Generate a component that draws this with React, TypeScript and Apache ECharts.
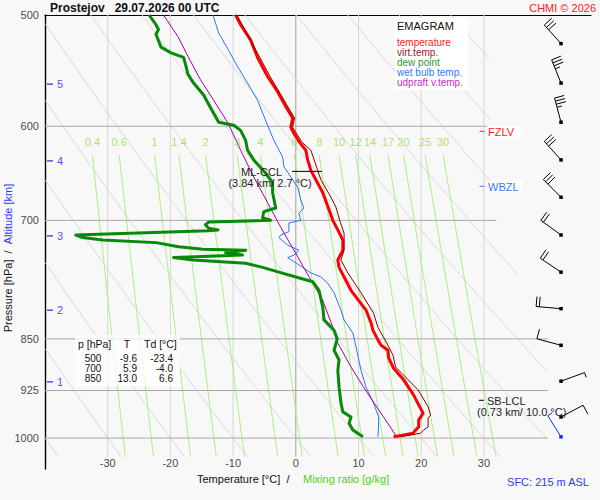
import React, { useEffect, useRef } from "react";
import * as echarts from "echarts";

const FONT = "'Liberation Sans', Arial, Helvetica, sans-serif";

// ---- axis extents ----
const P_TOP = 500;
const P_BOTTOM = 1052;
const P_LINE_BOTTOM = 1031;
const T_LEFT = -40;
const T_RIGHT = 47.08;

// ---- diagram furniture ----
const isobarLevels = [600, 700, 850, 925, 1000];
const isobarEndT = [30.6, 32.0, 40.2, 40.2, 40.2];
const isotherms = [-30, -20, -10, 0, 10, 20, 30];
const tempTickLabels = [-30, -20, -10, 0, 10, 20, 30];
const pressureTickLabels = [500, 600, 700, 850, 925, 1000];
const altitudeKm = [1, 2, 3, 4, 5];
const altitudeP = [912, 811, 718, 635, 560];
const mixingRatios = [0.4, 0.6, 1, 1.4, 2, 3, 4, 6, 8, 10, 12, 14, 17, 20, 25, 30];
const dryAdiabatsC = [-40, -30, -20, -10, 0, 10, 20, 30, 40, 50, 60, 70, 80, 90, 100];
const clipP = [500, 600, 700, 850, 1031];
const clipT = [31, 31, 32, 40, 40];

// ---- sounding profiles (pressure hPa, temperature °C) ----
const tempP = [500, 508, 521, 536, 553, 567, 581, 592, 601, 607, 616, 624, 634, 645, 655, 669, 688, 700, 711, 723, 735, 747, 756, 768, 785, 798, 811, 828, 838, 850, 859, 866, 877, 892, 909, 932, 947, 960, 971, 982, 987, 992, 995, 998];
const tempT = [-9.6, -8.8, -7.2, -6.1, -4.5, -2.9, -1.6, -0.5, -0.8, -0.3, 0.6, 1.6, 1.9, 2.4, 3.2, 4.3, 5.3, 5.9, 6.7, 7.5, 7.5, 6.7, 6.9, 7.7, 8.8, 10.0, 11.2, 12.0, 12.3, 13.0, 13.6, 14.7, 14.8, 15.6, 17.2, 18.8, 19.6, 20.3, 19.6, 19.6, 19.1, 18.7, 17.2, 15.6];

const virtP = [500, 553, 592, 601, 616, 624, 645, 655, 674, 685, 700, 715, 735, 747, 763, 788, 815, 834, 842, 854, 873, 890, 905, 924, 950, 963, 968, 982, 987, 992, 998];
const virtT = [-9.4, -4.1, -0.2, -0.5, 1.0, 2.4, 3.5, 4.0, 5.6, 6.4, 7.0, 7.7, 7.7, 7.2, 8.3, 10.4, 12.4, 13.1, 13.6, 14.4, 15.5, 15.9, 17.5, 19.5, 21.1, 21.5, 21.1, 21.1, 20.4, 19.9, 16.7];

const dewP = [500, 508, 512, 516, 527, 532, 536, 544, 551, 559, 570, 582, 596, 599, 604, 614, 624, 634, 648, 658, 669, 686, 690, 697, 700, 702, 705, 709, 711, 712, 717, 720, 723, 726, 731, 734, 735, 738, 741, 744, 747, 751, 756, 762, 768, 774, 785, 807, 824, 838, 850, 866, 880, 895, 920, 944, 958, 966, 976, 987, 998];
const dewT = [-23.4, -22.3, -21.9, -22.3, -21.5, -19.9, -17.9, -17.5, -17.2, -16.3, -14.7, -13.6, -12.3, -9.9, -8.8, -8.0, -7.7, -6.7, -4.8, -3.7, -3.7, -3.2, -5.1, -5.3, -4.0, -13.9, -14.4, -13.9, -12.4, -14.0, -35.1, -34.0, -30.8, -22.3, -18.7, -14.8, -8.0, -11.2, -8.5, -19.5, -16.4, -8.0, -5.3, -2.7, 0.0, 2.7, 3.7, 4.3, 4.5, 6.1, 6.6, 6.1, 6.9, 6.7, 6.9, 7.2, 7.5, 8.8, 8.5, 9.1, 10.7];

const wetP = [500, 515, 529, 544, 559, 575, 599, 614, 631, 641, 663, 677, 686, 692, 700, 703, 713, 717, 720, 729, 735, 741, 744, 753, 763, 768, 776, 788, 811, 824, 842, 861, 895, 920, 944, 966, 982, 998];
const wetT = [-13.2, -12.3, -10.8, -9.3, -7.7, -6.1, -4.5, -3.5, -2.1, -1.9, 0.3, 0.8, 1.3, 0.5, 0.8, -1.1, -1.1, -2.4, -2.7, -1.3, 0.5, -0.3, -1.3, 0.5, 2.4, 4.0, 5.1, 6.1, 7.2, 7.7, 9.1, 9.6, 10.4, 11.2, 12.4, 13.2, 13.2, 13.1];

const updP = [500, 518, 535, 556, 575, 597, 617, 624, 652, 680, 708, 743, 772, 798, 834, 856, 890, 920, 943, 966, 995];
const updT = [-21.1, -18.8, -17.2, -15.2, -13.1, -10.8, -9.3, -8.8, -6.7, -4.5, -2.4, 0.3, 2.4, 4.3, 5.9, 6.7, 8.8, 10.8, 12.4, 14.0, 15.9];

// ---- winds ----
const barbP = [524, 559, 596, 634, 674, 717, 762, 809, 859, 911, 966];
const barbDir = [318, 338, 345, 318, 315, 306, 304, 275, 285, 70, 62];
const barbSpd = [30, 35, 35, 30, 30, 20, 20, 20, 10, 5, 10];
const sfcP = 998;
const sfcDir = 328;
const sfcSpd = 5;
const BARB_T = 42.3;

// ---- table ----
const tableP = [500, 700, 850];
const tableT = [-9.6, 5.9, 13.0];
const tableTd = [-23.4, -4.0, 6.6];

// ---- markers ----
const mlcclP = 646;
const mlcclT = [-0.6, 4.2];
const sblclP = 940;
const sblclT = [29.2, 30.0];
const fzlvP = 605;
const wbzlP = 662;
const levelTickT = [29.3, 30.1];

function interp(xs: number[], ys: number[], x: number) {
  if (x <= xs[0]) return ys[0];
  for (let i = 1; i < xs.length; i++) {
    if (x <= xs[i]) {
      const f = (x - xs[i - 1]) / (xs[i] - xs[i - 1]);
      return ys[i - 1] + f * (ys[i] - ys[i - 1]);
    }
  }
  return ys[ys.length - 1];
}

function dewFromMix(w: number, p: number) {
  const e = (w * p) / (622 + w);
  const l = Math.log(e / 6.112);
  return (243.5 * l) / (17.67 - l);
}

const zip = (ps: number[], ts: number[]) => ps.map((p, i) => [ts[i], p]);

function buildOption() {
  const adiabatData = dryAdiabatsC
    .map((th) => {
      const coords: number[][] = [];
      for (let p = P_TOP; p <= P_LINE_BOTTOM; p += 1) {
        const T = (th + 273.15) * Math.pow(p / 1000, 0.286) - 273.15;
        if (T <= interp(clipP, clipT, p) && T >= T_LEFT) coords.push([T, p]);
      }
      return { coords };
    })
    .filter((d) => d.coords.length > 1);

  const mixTopP = 629;
  const mixData = mixingRatios.map((w) => {
    const coords: number[][] = [];
    for (let p = mixTopP; p <= P_LINE_BOTTOM; p += 4) coords.push([dewFromMix(w, p), p]);
    coords.push([dewFromMix(w, P_LINE_BOTTOM), P_LINE_BOTTOM]);
    return { coords };
  });

  const isothermData = isotherms
    .filter((t) => t !== 0)
    .map((t) => ({ coords: [[t, P_TOP], [t, P_LINE_BOTTOM]] }));
  const isobarData = isobarLevels.map((p, i) => ({ coords: [[T_LEFT, p], [isobarEndT[i], p]] }));

  const linesBase = (data: any, color: string, width: number, z = 1) => ({
    type: "lines",
    coordinateSystem: "cartesian2d",
    polyline: true,
    silent: true,
    z,
    data,
    lineStyle: { color, width, opacity: 1 },
  });

  const profile = (data: number[][], color: string, width: number, z: number) => ({
    type: "line",
    data,
    symbol: "none",
    silent: true,
    z,
    lineStyle: { color, width, join: "round" },
  });

  const labelScatter = (data: any[], label: any, extra: any = {}) => ({
    type: "scatter",
    data,
    symbolSize: 0.1,
    silent: true,
    z: 20,
    itemStyle: { color: "rgba(0,0,0,0)" },
    label: { show: true, fontFamily: FONT, ...label },
    ...extra,
  });

  const barbData = barbP.map((p, i) => [BARB_T, p, barbDir[i], barbSpd[i], 0]);
  barbData.push([BARB_T, sfcP, sfcDir, sfcSpd, 1]);

  const text = (x: number, y: number, s: string, opts: any = {}) => ({
    type: "text",
    x,
    y,
    z: 100,
    silent: true,
    style: {
      text: s,
      fontFamily: FONT,
      fontSize: 11,
      fill: "#111",
      align: "left",
      verticalAlign: "middle",
      ...opts,
    },
  });

  const legendItems = [
    ["temperature", "#ff1a1a"],
    ["virt.temp.", "#9a1a1a"],
    ["dew point", "#2e9a2e"],
    ["wet bulb temp.", "#2f7aff"],
    ["udpraft v.temp.", "#c030c0"],
  ];

  const tbl = { fontSize: 10, lineHeight: 9 };

  const graphics: any[] = [
    text(50, 8, "Prostejov   29.07.2026 00 UTC", { fontWeight: "bold", fontSize: 12 }),
    text(596, 8, "CHMI © 2026", { align: "right", fill: "#ff2020" }),
    {
      type: "rect",
      z: 99,
      silent: true,
      shape: { x: 395, y: 18, width: 73, height: 72 },
      style: { fill: "#ffffff" },
    },
    text(397, 26, "EMAGRAM", { fill: "#111" }),
    ...legendItems.map((it, i) => text(397, 42 + i * 10, it[0], { fill: it[1], fontSize: 10, lineHeight: 9 })),
    {
      type: "rect",
      z: 99,
      silent: true,
      shape: { x: 75, y: 335, width: 105, height: 51 },
      style: { fill: "rgba(255,255,255,0.75)" },
    },
    text(78, 344, "p [hPa]", { ...tbl, fontSize: 10.5 }),
    text(127, 344, "T", { ...tbl, fontSize: 10.5, align: "center" }),
    text(144, 344, "Td [°C]", { ...tbl, fontSize: 10.5 }),
    ...tableP.flatMap((p, i) => [
      text(93, 358 + i * 10, String(p), { ...tbl, align: "center" }),
      text(137, 358 + i * 10, tableT[i].toFixed(1), { ...tbl, align: "right" }),
      text(173, 358 + i * 10, tableTd[i].toFixed(1), { ...tbl, align: "right" }),
    ]),
    text(282, 172, "ML-CCL", { align: "right", fill: "#222" }),
    text(270, 183, "(3.84 km/ 2.7 °C)", { align: "center", fill: "#222" }),
    text(487, 401, "SB-LCL", { fill: "#222" }),
    text(477, 412, "(0.73 km/ 10.0 °C)", { fill: "#222" }),
    {
      type: "rect",
      z: 99,
      silent: true,
      shape: { x: 487, y: 126, width: 36, height: 11 },
      style: { fill: "#ffffff" },
    },
    text(488, 131.5, "FZLV", { fill: "#ff2020" }),
    {
      type: "rect",
      z: 99,
      silent: true,
      shape: { x: 487, y: 181, width: 36, height: 11 },
      style: { fill: "#ffffff" },
    },
    text(488, 186.5, "WBZL", { fill: "#3a78ff" }),
    text(197, 479, "Temperature [°C]  /", { fill: "#111" }),
    text(303, 479, "Mixing ratio [g/kg]", { fill: "#55cc22" }),
    text(589, 482, "SFC: 215 m ASL", { align: "right", fill: "#2a3aff" }),
    {
      type: "text",
      x: 8,
      y: 258,
      rotation: Math.PI / 2,
      z: 100,
      silent: true,
      style: {
        text: "{a|Pressure [hPa]}{a|  /  }{c|Altitude [km]}",
        fontFamily: FONT,
        fontSize: 11,
        align: "center",
        verticalAlign: "middle",
        rich: {
          a: { fill: "#111", fontFamily: FONT, fontSize: 11 },
          c: { fill: "#2a3aff", fontFamily: FONT, fontSize: 11 },
        },
      },
    },
  ];

  return {
    animation: false,
    backgroundColor: "#f8f8f8",
    grid: { left: 45, right: 9, top: 15, bottom: 31, containLabel: false },
    xAxis: {
      type: "value",
      min: T_LEFT,
      max: T_RIGHT,
      position: "top",
      axisLine: { show: true, onZero: false, lineStyle: { color: "#000", width: 1.2 } },
      axisTick: { show: false },
      axisLabel: { show: false },
      splitLine: { show: false },
    },
    yAxis: {
      type: "log",
      logBase: 10,
      min: P_TOP,
      max: P_BOTTOM,
      inverse: true,
      axisLine: { show: true, onZero: false, lineStyle: { color: "#000", width: 1.4 } },
      axisTick: { show: false },
      axisLabel: { show: false },
      splitLine: { show: false },
    },
    graphic: graphics,
    series: [
      linesBase(isothermData, "#d6d6d6", 1, 1),
      linesBase([{ coords: [[0, P_TOP], [0, P_LINE_BOTTOM]] }], "#a0a0a0", 1, 1),
      linesBase(adiabatData, "#d4d4d4", 1, 1),
      linesBase(mixData, "#a8f07c", 1, 1),
      linesBase(isobarData, "#a8a8a8", 1, 1),
      profile(zip(wetP, wetT), "#2b72ff", 1, 5),
      profile(zip(updP, updT), "#a400a8", 1, 5),
      profile(zip(dewP, dewT), "#078a07", 3, 6),
      profile(zip(tempP, tempT), "#ff0000", 3, 6),
      profile(zip(virtP, virtT), "#8a0000", 1, 7),
      linesBase([{ coords: [[mlcclT[0], mlcclP], [mlcclT[1], mlcclP]] }], "#000", 1, 8),
      linesBase([{ coords: [[sblclT[0], sblclP], [sblclT[1], sblclP]] }], "#000", 1, 8),
      labelScatter(
        pressureTickLabels.map((p) => [T_LEFT, p]),
        { position: "left", distance: 6, fontSize: 11, color: "#111", formatter: (pr: any) => String(pr.value[1]) }
      ),
      labelScatter(
        tempTickLabels.map((t) => [t, 1042]),
        { position: "inside", fontSize: 11, color: "#111", formatter: (pr: any) => String(pr.value[0]) }
      ),
      labelScatter(
        mixingRatios.map((w) => [dewFromMix(w, 629), 616, w]),
        { position: "inside", fontSize: 11, color: "#9ada4c", formatter: (pr: any) => String(pr.value[2]) }
      ),
      {
        type: "scatter",
        data: altitudeKm.map((k, i) => [T_LEFT + 0.8, altitudeP[i], k]),
        symbol: "rect",
        symbolSize: [6, 1.5],
        silent: true,
        z: 20,
        itemStyle: { color: "#2222ee" },
        label: {
          show: true,
          position: "right",
          distance: 4,
          fontFamily: FONT,
          fontSize: 11,
          color: "#2222ee",
          formatter: (pr: any) => String(pr.value[2]),
        },
      },
      linesBase([{ coords: [[levelTickT[0], fzlvP], [levelTickT[1], fzlvP]] }], "#ff2020", 1, 110),
      linesBase([{ coords: [[levelTickT[0], wbzlP], [levelTickT[1], wbzlP]] }], "#3a78ff", 1, 110),
      {
        type: "custom",
        coordinateSystem: "cartesian2d",
        silent: true,
        z: 30,
        data: barbData,
        renderItem: (params: any, api: any) => {
          const c = api.coord([api.value(0), api.value(1)]);
          const dir = (api.value(2) * Math.PI) / 180;
          const spd = api.value(3);
          const sfc = api.value(4) === 1;
          const color = sfc ? "#1030ff" : "#000000";
          const ux = Math.sin(dir);
          const uy = -Math.cos(dir);
          const px = -uy;
          const py = ux;
          const L = 25;
          const FL = 10;
          const SP = 3.2;
          const tx = c[0] + ux * L;
          const ty = c[1] + uy * L;
          const children: any[] = [
            { type: "line", shape: { x1: c[0], y1: c[1], x2: tx, y2: ty }, style: { stroke: color, lineWidth: 1 } },
          ];
          const nFull = Math.floor(spd / 10);
          const half = spd % 10 >= 5;
          let k = 0;
          for (let i = 0; i < nFull; i++, k++) {
            const bx = tx - ux * SP * k;
            const by = ty - uy * SP * k;
            children.push({
              type: "line",
              shape: { x1: bx, y1: by, x2: bx + px * FL, y2: by + py * FL },
              style: { stroke: color, lineWidth: 1 },
            });
          }
          if (half) {
            const bx = tx - ux * SP * k;
            const by = ty - uy * SP * k;
            children.push({
              type: "line",
              shape: { x1: bx, y1: by, x2: bx + (px * FL) / 2, y2: by + (py * FL) / 2 },
              style: { stroke: color, lineWidth: 1 },
            });
          }
          children.push({
            type: "rect",
            shape: { x: c[0] - 1.75, y: c[1] - 1.75, width: 3.5, height: 3.5 },
            style: { fill: color },
          });
          return { type: "group", children };
        },
      },
    ],
  };
}

export default function App() {
  const ref = useRef<HTMLDivElement>(null);
  useEffect(() => {
    document.body.style.margin = "0";
    const chart = echarts.init(ref.current as HTMLDivElement, null, { renderer: "svg" });
    chart.setOption(buildOption() as any);
    return () => chart.dispose();
  }, []);
  return <div ref={ref} style={{ width: 600, height: 500 }} />;
}
